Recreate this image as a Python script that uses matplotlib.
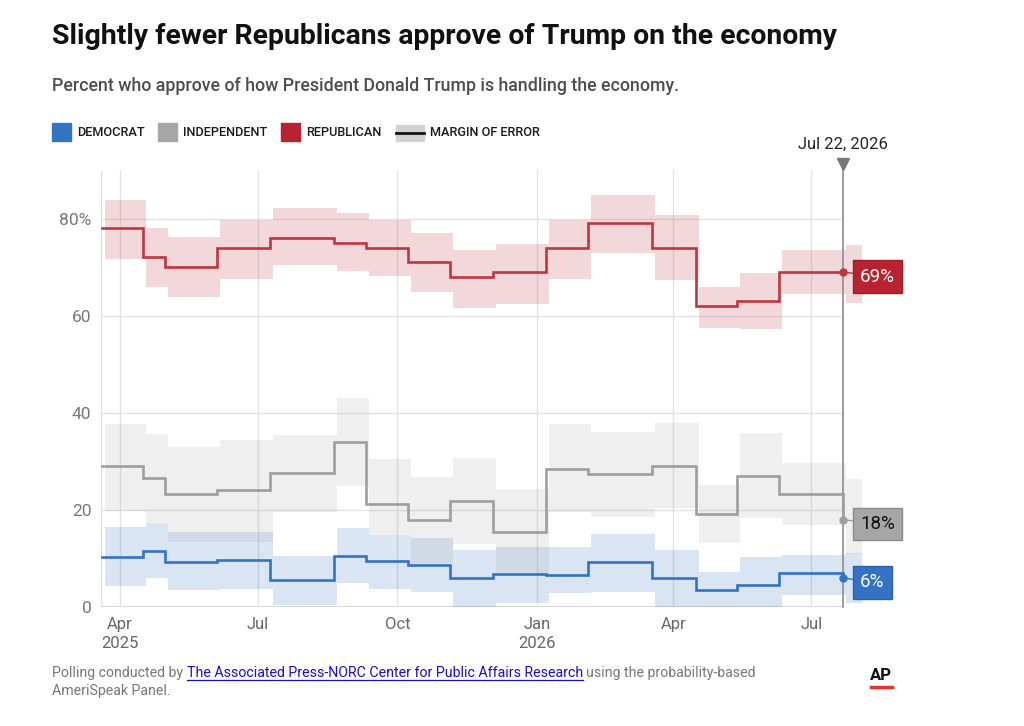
import matplotlib
matplotlib.use('Agg')
import matplotlib.pyplot as plt
from matplotlib.patches import Rectangle
from matplotlib.lines import Line2D
import pandas as pd

plt.rcParams['font.family'] = ['Roboto', 'DejaVu Sans']

# poll dates (start of each step)
poll_dates = pd.to_datetime([
    '2025-03-20', '2025-04-16', '2025-05-01', '2025-06-04', '2025-07-09',
    '2025-08-20', '2025-09-10', '2025-10-08', '2025-11-05', '2025-12-03',
    '2026-01-07', '2026-02-04', '2026-03-18', '2026-04-16', '2026-05-13',
    '2026-06-10', '2026-07-22'])

dem = [10.4, 11.6, 9.3, 9.6, 5.6, 10.6, 9.4, 8.7, 6.0, 6.8, 6.5, 9.2, 6.0, 3.5, 4.5, 6.9, 6]
dem_lo = [4.4, 6.0, 3.5, 3.7, 0.4, 5.0, 3.7, 3.0, 0, 0.8, 2.8, 3.1, 0, 0, 0, 2.5, 0.8]
dem_hi = [16.5, 17.2, 15.5, 15.5, 10.6, 16.3, 14.8, 14.3, 11.7, 12.4, 12.4, 15.0, 11.7, 7.3, 10.4, 10.8, 11.2]

ind = [29.0, 26.6, 23.3, 24.1, 27.6, 34.0, 21.3, 17.9, 21.9, 15.4, 28.5, 27.4, 29.0, 19.2, 27.0, 23.3, 18]
ind_lo = [19.8, 17.2, 13.4, 13.4, 19.6, 24.9, 14.8, 9.0, 13.0, 6.5, 19.6, 18.6, 20.3, 13.2, 18.4, 16.9, 11.0]
ind_hi = [37.6, 35.7, 33.0, 34.4, 35.4, 43.1, 30.4, 26.7, 30.6, 24.4, 37.6, 36.1, 37.8, 25.1, 35.9, 29.7, 26.3]

rep = [78, 72, 70, 74, 76, 75, 74, 71, 68, 69, 74, 79, 74, 62, 63, 69, 69]
rep_lo = [71.7, 66.0, 63.8, 67.5, 70.5, 69.1, 68.2, 64.8, 61.6, 62.5, 67.6, 73.0, 67.3, 57.5, 57.3, 64.5, 62.7]
rep_hi = [83.9, 78.1, 76.2, 79.6, 82.2, 81.2, 79.8, 77.1, 73.6, 74.8, 79.8, 84.8, 80.7, 65.9, 68.8, 73.6, 74.6]

tick_dates = pd.to_datetime(['2025-04-01', '2025-07-01', '2025-10-01',
                             '2026-01-01', '2026-04-01', '2026-07-01'])
tick_labels = ['Apr\n2025', 'Jul', 'Oct', 'Jan\n2026', 'Apr', 'Jul']
y_ticks = [0, 20, 40, 60, 80]
y_labels = ['0', '20', '40', '60', '80%']

W, H = 1024, 726


def fx(x):
    return x / W


def fy(y):
    return 1 - y / H


fig = plt.figure(figsize=(W / 100, H / 100), dpi=100)
ax = fig.add_axes([fx(101), fy(607), (862 - 101) / W, (607 - 170) / H])

end_date = poll_dates[-1]
x_left = pd.Timestamp('2025-04-01') - pd.Timedelta(days=12.5)
x_right = end_date + pd.Timedelta(days=12.5)
ax.set_xlim(x_left, x_right)
ax.set_ylim(0, 90)

for s in ax.spines.values():
    s.set_visible(False)

# grid
ax.hlines([20, 40, 60, 80], x_left, end_date, color='#e3e3e3', lw=1, zorder=0)
ax.hlines([0], x_left, end_date, color='#d0d0d0', lw=1.2, zorder=0)
ax.vlines(tick_dates, 0, 90, color='#e3e3e3', lw=1, zorder=0)
ax.vlines([x_left], 0, 90, color='#dedede', lw=1, zorder=0)

series = [
    ('dem', dem, dem_lo, dem_hi, '#3373c4', (0.2, 0.45, 0.77, 0.18), '#3373c4', 'white', '#2a62aa'),
    ('ind', ind, ind_lo, ind_hi, '#9e9e9e', (0.6, 0.6, 0.6, 0.15), '#a6a6a6', '#111111', '#8a8a8a'),
    ('rep', rep, rep_lo, rep_hi, '#c0353f', (0.75, 0.19, 0.24, 0.19), '#b8232f', 'white', '#9a1d27'),
]

band_x = list(poll_dates + pd.Timedelta(days=2)) + [x_right]
for name, vals, lo, hi, lc, bc, boxc, txtc, edgec in series:
    ax.fill_between(band_x, lo + [lo[-1]], hi + [hi[-1]], step='post',
                    color=bc, lw=0, zorder=1, clip_on=False)

for name, vals, lo, hi, lc, bc, boxc, txtc, edgec in series:
    ax.step(poll_dates, vals, where='post', color=lc, lw=1.9, zorder=3,
            solid_joinstyle='miter')
    ax.plot([end_date], [vals[-1]], 'o', color=lc, ms=5, zorder=4)
    ax.annotate(f'{vals[-1]:.0f}%', xy=(end_date, vals[-1]),
                xytext=(12.3, -3.3), textcoords='offset points',
                ha='left', va='center', fontsize=13.5, color=txtc, zorder=6,
                bbox=dict(boxstyle='square,pad=0.38', fc=boxc, ec=edgec, lw=1),
                arrowprops=dict(arrowstyle='-', color=lc, lw=1,
                                shrinkA=0, shrinkB=0))

# current date marker
ax.plot([end_date, end_date], [0, 91], color='#8c8c8c', lw=1.2, zorder=2,
        clip_on=False)
ax.plot([end_date], [91.2], marker='v', color='#777777', ms=8, clip_on=False,
        zorder=5)
fig.text(fx(843), fy(144), 'Jul 22, 2026', ha='center', va='center',
         fontsize=12, color='#222222')

ax.set_xticks(tick_dates)
ax.set_xticklabels(tick_labels, linespacing=1.35)
ax.set_yticks(y_ticks)
ax.set_yticklabels(y_labels)
ax.tick_params(axis='x', length=0, pad=7, labelsize=12, labelcolor='#666666')
ax.tick_params(axis='y', length=0, pad=7, labelsize=12.5, labelcolor='#777777')

# title and subtitle
fig.text(fx(52), fy(36), 'Slightly fewer Republicans approve of Trump on the economy',
         fontsize=20.4, fontweight='bold', color='#111111', va='center')
fig.text(fx(52), fy(86), 'Percent who approve of how President Donald Trump is handling the economy.',
         fontsize=12.8, fontweight='medium', color='#4d4d4d', va='center')

# legend
legend_items = [(52, '#3373c4', 'DEMOCRAT'), (158, '#a6a6a6', 'INDEPENDENT'),
                (281, '#b8232f', 'REPUBLICAN')]
for lx, c, lab in legend_items:
    fig.add_artist(Rectangle((fx(lx), fy(141)), 19 / W, 18 / H,
                             transform=fig.transFigure, color=c))
    fig.text(fx(lx + 25), fy(132), lab, fontsize=9.2, fontweight='medium',
             color='#1a1a1a', va='center')
fig.add_artist(Rectangle((fx(396), fy(141)), 28 / W, 16 / H,
                         transform=fig.transFigure, color='#d2d2d2'))
fig.add_artist(Line2D([fx(396), fx(424)], [fy(133), fy(133)], color='#111111', lw=2))
fig.text(fx(430), fy(132), 'MARGIN OF ERROR', fontsize=9.2, fontweight='medium',
         color='#1a1a1a', va='center')

# footer with link
fs = 10.2
renderer = fig.canvas.get_renderer()
t1 = fig.text(fx(52), fy(677), 'Polling conducted by', fontsize=fs, color='#777777',
              va='baseline')
sp = 3.6
x1 = t1.get_window_extent(renderer).x1 + sp
t2 = fig.text(x1 / W, fy(677), 'The Associated Press-NORC Center for Public Affairs Research',
              fontsize=fs, color='#1a0dcc', va='baseline')
bb2 = t2.get_window_extent(renderer)
fig.add_artist(Line2D([bb2.x0 / W, bb2.x1 / W], [fy(679.5), fy(679.5)],
                      color='#1a0dcc', lw=0.9))
fig.text((bb2.x1 + sp) / W, fy(677), 'using the probability-based', fontsize=fs,
         color='#777777', va='baseline')
fig.text(fx(52), fy(695), 'AmeriSpeak Panel.', fontsize=fs, color='#777777',
         va='baseline')

# AP logo
fig.text(fx(881), fy(675), 'AP', fontsize=12, fontweight='bold', color='#111111',
         ha='center', va='center')
fig.add_artist(Line2D([fx(871), fx(892)], [fy(687), fy(687)], color='#e8322e', lw=2.5))

fig.savefig('out.png', dpi=100)
